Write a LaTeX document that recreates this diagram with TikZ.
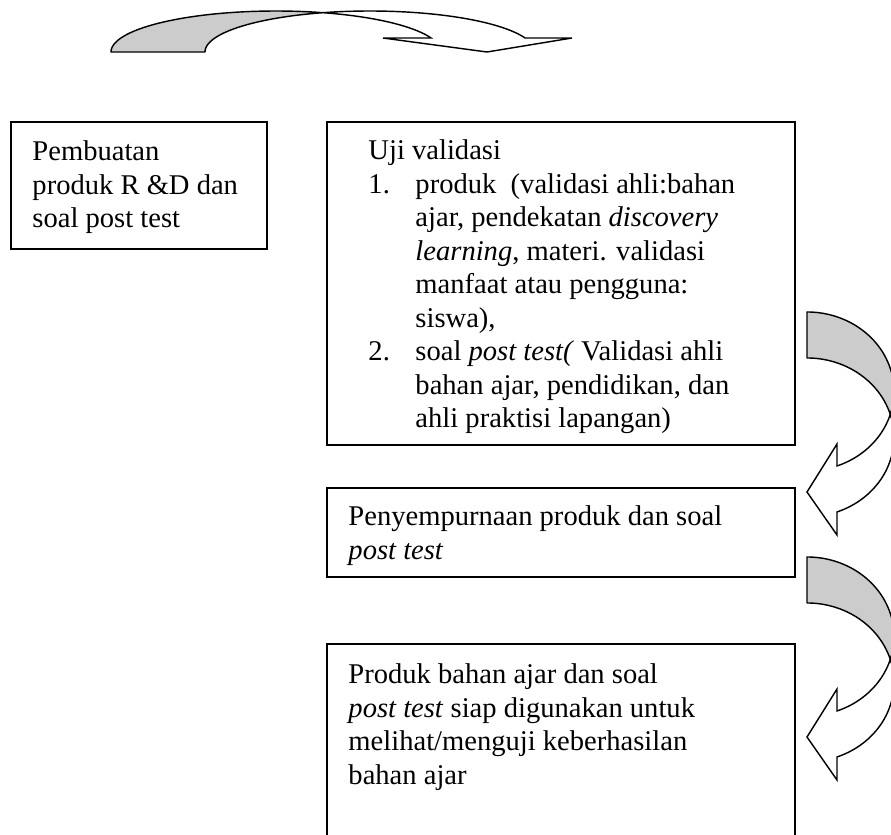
\documentclass[tikz,border=0pt]{standalone}
\usepackage{fontspec}
\setmainfont{Liberation Serif}
\usetikzlibrary{fit}
\definecolor{arrowgray}{RGB}{204,204,204}
\begin{document}
\begin{tikzpicture}[x=0.42pt, y=-0.42pt,
  box/.style={draw=black, line width=0.85pt, inner sep=0pt},
  txt/.style={inner sep=0pt, anchor=north west, align=left, font=\fontsize{12}{14.07}\selectfont},
  backband/.style={fill=arrowgray, draw=black, line width=0.6pt, line join=round},
  frontband/.style={fill=white, draw=black, line width=0.6pt, line join=miter}]
\useasboundingbox (0,0) rectangle (891,834);
\clip (0,0) rectangle (891,834);

% ---- top curved-down arrow ----
\filldraw[backband]
  plot[domain=180:286.55, samples=50] ({276+165*cos(\x)},{52+41*sin(\x)})
  -- plot[domain=253.45:180, samples=50] ({370+165*cos(\x)},{52+41*sin(\x)})
  -- cycle;
\filldraw[frontband]
  plot[domain=286.55:340.03, samples=40] ({276+165*cos(\x)},{52+41*sin(\x)})
  -- (383,38) -- (487,52) -- (572,38)
  -- plot[domain=340.03:253.45, samples=60] ({370+165*cos(\x)},{52+41*sin(\x)})
  -- cycle;

% ---- boxes ----
\node[box, fit={(11,122) (267,249)}] (b1) {};
\node[box, fit={(327,122) (795,445)}] (b2) {};
\node[box, fit={(327,488) (795,577)}] (b3) {};
\node[box, fit={(327,644) (795,870)}] (b4) {};

% ---- texts ----
\node[txt] (t1) at (32,136.6) {\strut Pembuatan\\produk R \&D dan\\soal post test};
\node[txt] (t2) at (368,135.6) {\strut Uji validasi\\
\makebox[19.74pt][l]{1.}produk\ \ (validasi ahli:bahan\\
\hspace*{19.74pt}ajar, pendekatan \textit{discovery}\\
\hspace*{19.74pt}\textit{learning}, materi. validasi\\
\hspace*{19.74pt}manfaat atau pengguna:\\
\hspace*{19.74pt}siswa),\\
\makebox[19.74pt][l]{2.}soal \textit{post test(} Validasi ahli\\
\hspace*{19.74pt}bahan ajar, pendidikan, dan\\
\hspace*{19.74pt}ahli praktisi lapangan)};
\node[txt] (t3) at (348,501.6) {\strut Penyempurnaan produk dan soal\\\textit{post test}};
\node[txt] (t4) at (348,659.6) {\strut Produk bahan ajar dan soal\\\textit{post test} siap digunakan untuk\\melihat/menguji keberhasilan\\bahan ajar};

% ---- right curved-left arrows ----
\foreach \dy/\nm in {0/ca1, 245/ca2} {
  \begin{scope}[shift={(0,\dy)}]
    \filldraw[backband]
      plot[domain=-90:16.83, samples=50] ({807+87*cos(\x)},{391.4+79.43*sin(\x)})
      -- plot[domain=-16.83:-90, samples=50] ({807+87*cos(\x)},{437.4+79.43*sin(\x)})
      -- cycle;
    \filldraw[frontband]
      plot[domain=16.83:69.83, samples=40] ({807+87*cos(\x)},{391.4+79.43*sin(\x)})
      -- (837,444) -- (807,492) -- (837,535)
      -- plot[domain=69.83:-16.83, samples=50] ({807+87*cos(\x)},{437.4+79.43*sin(\x)})
      -- cycle;
  \end{scope}
}
\end{tikzpicture}
\end{document}
